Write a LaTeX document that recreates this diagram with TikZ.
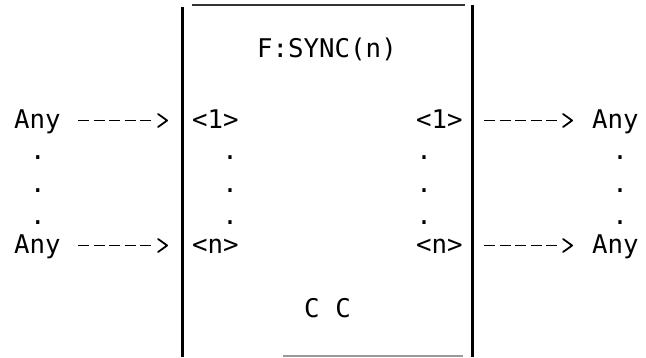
\documentclass[tikz,border=0pt]{standalone}
\usepackage{fontspec}
\newfontfamily\diagfont{DejaVu Sans Mono}
\usetikzlibrary{calc, positioning}
\usetikzlibrary{arrows.meta}

\begin{document}
\begin{tikzpicture}[x=1pt,y=1pt,
    txt/.style={inner sep=0pt, outer sep=0pt, anchor=base west,
        font=\diagfont\fontsize{25.75}{30}\selectfont},
    dotmark/.style={txt, anchor=base},
    flow/.style={line width=1.9pt,
        dash pattern=on 11pt off 4.5pt on 11pt off 4.5pt on 11pt off 4.5pt
            on 11pt off 4.5pt on 11pt off 60pt,
        -{Straight Barb[length=9pt,width=13pt,line width=1.8pt,round]}}]
\def\rowA{229}
\def\rowN{104}
\pgfmathsetmacro{\lift}{7.5}
\pgfmathsetmacro{\boxL}{182.5}
\pgfmathsetmacro{\boxR}{472.5}
\useasboundingbox (0,0) rectangle (646,357);

% Box sides
\coordinate (LT) at (\boxL,350);
\coordinate (LB) at (\boxL,0);
\coordinate (RT) at (\boxR,352);
\coordinate (RB) at (\boxR,0);
\coordinate (TopA) at (192,352);
\coordinate (TopB) at (465,352);
\coordinate (BotA) at (283,1);
\coordinate (BotB) at (463,1);
\draw[line width=2.1pt] (LT) -- (LB);
\draw[line width=2.1pt] (RT) -- (RB);
\draw[line width=1.5pt, black!80] (TopA) -- (TopB);
\draw[line width=1.3pt, black!40] (BotA) -- (BotB);

% Texts inside the box
\node[txt, anchor=base] (title) at (327,299) {F:SYNC(n)};
\node[txt, anchor=base] (cc) at (327.5,40) {C C};

% Ports and outer terminals
\node[txt] (anyinA) at (14,\rowA) {Any};
\node[txt] (anyinN) at (14,\rowN) {Any};
\node[txt] (portinA) at (192,\rowA) {<1>};
\node[txt] (portinN) at (192,\rowN) {<n>};
\node[txt] (portoutA) at (416,\rowA) {<1>};
\node[txt] (portoutN) at (416,\rowN) {<n>};
\node[txt] (anyoutA) at (592,\rowA) {Any};
\node[txt] (anyoutN) at (592,\rowN) {Any};

% Vertical ellipsis dots
\foreach \col/\xx in {a/38, b/230, c/424, d/620}
  \foreach \yy [count=\k] in {197,165,133}
    \node[dotmark] (dot\col\k) at (\xx,\yy) {.};

% Connectors
\draw[flow] ([shift={(17.5,\lift)}]anyinA.base east)
    -- ([shift={(-24,\lift)}]portinA.base west);
\draw[flow] ([shift={(17.5,\lift)}]anyinN.base east)
    -- ([shift={(-24,\lift)}]portinN.base west);
\draw[flow] ([shift={(21.5,\lift)}]portoutA.base east)
    -- ([shift={(-19,\lift)}]anyoutA.base west);
\draw[flow] ([shift={(21.5,\lift)}]portoutN.base east)
    -- ([shift={(-19,\lift)}]anyoutN.base west);
\end{tikzpicture}
\end{document}
